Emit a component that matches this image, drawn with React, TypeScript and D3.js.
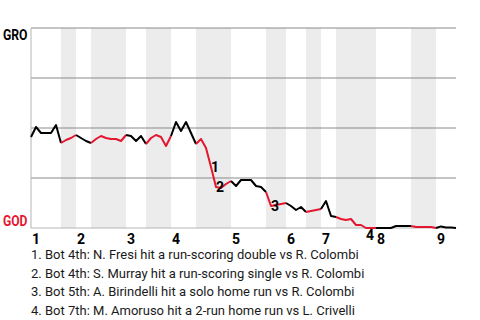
import React from "react";
import * as d3 from "d3";

const innings = ["1", "2", "3", "4", "5", "6", "7", "8", "9"];
// plate appearances per half inning (top 1, bottom 1, top 2, ...)
const halfInningPAs = [6, 3, 3, 7, 4, 5, 5, 7, 7, 4, 4, 3, 3, 8, 7, 5, 4];
// GRO win probability (%) after each plate appearance
const groWinPct = [
  45.5, 50.5, 47.5, 47.5, 47.5, 51.5, 42.5, 44, 45, 46.5,
  45, 43.5, 42.5, 44.5, 46, 45, 44.5, 44.5, 43.5, 46.5,
  46, 43.5, 46, 42, 45, 46.5, 45.5, 41, 46, 53,
  48.5, 53, 47.5, 42, 44.5, 40, 30.5, 20.5, 20, 22,
  23.5, 21, 24, 24, 24, 21, 20.5, 18, 11, 11.5,
  12, 12.5, 11, 9, 10.5, 8, 8.5, 9, 9.5, 13.5,
  6, 5.5, 4.5, 4, 4.5, 1.5, 1.5, 0, 0, 0,
  0, 0, 0, 1, 1, 1, 1, 0.5, 0.5, 0.5,
  0.5, 0, 0.8, 0.3, 0.3, 0,
];
const eventIndex = [36, 37, 48, 67];
const eventLabels = ["1", "2", "3", "4"];
const eventTexts = [
  "1. Bot 4th: N. Fresi hit a run-scoring double vs R. Colombi",
  "2. Bot 4th: S. Murray hit a run-scoring single vs R. Colombi",
  "3. Bot 5th: A. Birindelli hit a solo home run vs R. Colombi",
  "4. Bot 7th: M. Amoruso hit a 2-run home run vs L. Crivelli",
];
const teamTop = "GRO";
const teamBottom = "GOD";

const RED = "#e3172f";
const W = 480;
const H = 320;
const L = 31;
const R = 456;
const T = 28;
const B = 228;

export default function App() {
  const total = d3.sum(halfInningPAs);
  const x = d3.scaleLinear().domain([0, total]).range([L, R]);
  const y = d3.scaleLinear().domain([0, 100]).range([B, T]);

  const starts = halfInningPAs.map((_, i) => d3.sum(halfInningPAs.slice(0, i)));

  const halfOf = (i: number) => {
    for (let h = 0; h < halfInningPAs.length; h++) {
      if (i <= starts[h] + halfInningPAs[h]) return h;
    }
    return halfInningPAs.length - 1;
  };

  const line = d3
    .line<[number, number]>()
    .x((d) => x(d[0]))
    .y((d) => y(d[1]));

  const segs: { h: number; pts: [number, number][] }[] = [];
  for (let i = 1; i < groWinPct.length; i++) {
    const h = halfOf(i);
    const last = segs[segs.length - 1];
    if (last && last.h === h) last.pts.push([i, groWinPct[i]]);
    else segs.push({ h, pts: [[i - 1, groWinPct[i - 1]], [i, groWinPct[i]]] });
  }

  const font = "Roboto, 'Noto Sans', sans-serif";

  return (
    <svg
      width={W}
      height={H}
      style={{ position: "absolute", left: 0, top: 0, background: "#fff" }}
    >
      {halfInningPAs.map((n, h) =>
        h % 2 === 1 ? (
          <rect
            key={"b" + h}
            x={x(starts[h])}
            y={T}
            width={x(starts[h] + n) - x(starts[h])}
            height={B - T}
            fill="#ececec"
          />
        ) : null
      )}
      {[25, 50, 75, 100].map((v) => (
        <line key={"g" + v} x1={L} x2={R} y1={y(v)} y2={y(v)} stroke="#8a8a8a" strokeWidth={1} />
      ))}
      <line x1={L} x2={R} y1={y(0)} y2={y(0)} stroke="#b5b5b5" strokeWidth={1} />
      <line x1={L} x2={L} y1={T} y2={B} stroke="#b5b5b5" strokeWidth={1} />

      {segs.map((s, k) => (
        <path
          key={"s" + k}
          d={line(s.pts) || ""}
          fill="none"
          stroke={s.h % 2 === 1 ? RED : "#000"}
          strokeWidth={2}
          strokeLinejoin="round"
        />
      ))}

      <text x={3} y={40} fontFamily={font} fontWeight="bold" fontSize={14} textLength={24.5} lengthAdjust="spacingAndGlyphs" fill="#000">
        {teamTop}
      </text>
      <text x={3} y={226} fontFamily={font} fontWeight="bold" fontSize={14} textLength={24.5} lengthAdjust="spacingAndGlyphs" fill={RED}>
        {teamBottom}
      </text>

      {innings.map((lab, k) => (
        <text
          key={"i" + k}
          x={x(starts[k * 2]) + 1}
          y={244}
          fontFamily={font}
          fontWeight="bold"
          fontSize={14}
          fill="#000"
        >
          {lab}
        </text>
      ))}

      {eventIndex.map((idx, k) => {
        const py = y(groWinPct[idx]);
        const ly = py > B - 4 ? py + 7 : py;
        return (
          <text
            key={"e" + k}
            x={x(idx)}
            y={ly}
            dy="0.35em"
            fontFamily={font}
            fontWeight="bold"
            fontSize={14}
            fill="#000"
          >
            {eventLabels[k]}
          </text>
        );
      })}

      {eventTexts.map((t, k) => (
        <text key={"t" + k} x={31} y={259 + k * 18.5} fontFamily={font} fontSize={13} fill="#1a1a1a">
          {t}
        </text>
      ))}
    </svg>
  );
}
